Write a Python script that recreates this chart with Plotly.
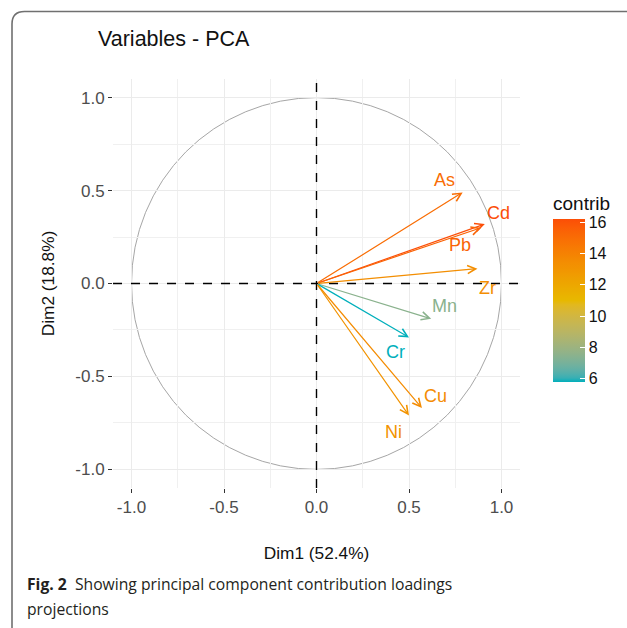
import plotly.graph_objects as go
from plotly.colors import sample_colorscale

# ---- data ----
variables = ["As", "Cd", "Pb", "Zr", "Mn", "Cr", "Cu", "Ni"]
dim1 = [0.79, 0.91, 0.89, 0.87, 0.62, 0.50, 0.57, 0.50]
dim2 = [0.49, 0.32, 0.30, 0.08, -0.19, -0.29, -0.67, -0.71]
contrib = [15.0, 16.2, 15.4, 13.4, 7.5, 5.8, 13.5, 13.1]
axis_ticks = [-1.0, -0.5, 0.0, 0.5, 1.0]
axis_tick_labels = ["-1.0", "-0.5", "0.0", "0.5", "1.0"]
contrib_ticks = [6, 8, 10, 12, 14, 16]

# ---- style ----
GRADIENT = ["#00AFBB", "#E7B800", "#FC4E07"]
LABEL_SHIFT = {"As": (-18, 12), "Cd": (14, 11), "Pb": (-21, -17), "Zr": (10, -19),
               "Mn": (13, 13), "Cr": (-14, -15), "Cu": (14, 12), "Ni": (-16, -16)}
FONT = "Liberation Sans, Arial, sans-serif"
W, H = 627, 628
ML, MR, MT, MB = 113, 107, 79, 140
PW, PH = W - ML - MR, H - MT - MB


def px(x):
    return (x - ML) / PW


def py(y):
    return (H - MB - y) / PH


# --- Lab interpolation (as ggplot's gradient palette does) ---
def _hex2rgb(h):
    h = h.lstrip("#")
    return [int(h[i:i + 2], 16) / 255 for i in (0, 2, 4)]


def _lin(c):
    return c / 12.92 if c <= 0.04045 else ((c + 0.055) / 1.055) ** 2.4


def _delin(c):
    c = max(0.0, min(1.0, c))
    return 12.92 * c if c <= 0.0031308 else 1.055 * c ** (1 / 2.4) - 0.055


WHITE = (0.95047, 1.0, 1.08883)


def _f(t):
    return t ** (1 / 3) if t > 216 / 24389 else (24389 / 27 * t + 16) / 116


def _finv(t):
    return t ** 3 if t ** 3 > 216 / 24389 else (116 * t - 16) / (24389 / 27)


def rgb2lab(h):
    r, g, b = [_lin(c) for c in _hex2rgb(h)]
    X = 0.4124 * r + 0.3576 * g + 0.1805 * b
    Y = 0.2126 * r + 0.7152 * g + 0.0722 * b
    Z = 0.0193 * r + 0.1192 * g + 0.9505 * b
    fx, fy, fz = _f(X / WHITE[0]), _f(Y / WHITE[1]), _f(Z / WHITE[2])
    return (116 * fy - 16, 500 * (fx - fy), 200 * (fy - fz))


def lab2rgb(lab):
    L, a, b = lab
    fy = (L + 16) / 116
    fx = fy + a / 500
    fz = fy - b / 200
    X, Y, Z = WHITE[0] * _finv(fx), WHITE[1] * _finv(fy), WHITE[2] * _finv(fz)
    r = 3.2406 * X - 1.5372 * Y - 0.4986 * Z
    g = -0.9689 * X + 1.8758 * Y + 0.0415 * Z
    bb = 0.0557 * X - 0.2040 * Y + 1.0570 * Z
    return "rgb(%d,%d,%d)" % tuple(round(_delin(c) * 255) for c in (r, g, bb))


labs = [rgb2lab(c) for c in GRADIENT]
N = 40
COLORSCALE = []
for i in range(N + 1):
    t = i / N
    seg = min(int(t * 2), 1)
    u = t * 2 - seg
    lab = tuple(labs[seg][k] + (labs[seg + 1][k] - labs[seg][k]) * u for k in range(3))
    COLORSCALE.append([t, lab2rgb(lab)])

cmin, cmax = min(contrib), max(contrib)
colors = sample_colorscale(COLORSCALE, [(c - cmin) / (cmax - cmin) for c in contrib])

fig = go.Figure()

# invisible trace carrying the colour scale
fig.add_trace(go.Scatter(
    x=dim1, y=dim2, mode="markers", hoverinfo="skip", showlegend=False,
    marker=dict(size=1, opacity=0, color=contrib, colorscale=COLORSCALE,
                cmin=cmin, cmax=cmax, showscale=True,
                colorbar=dict(
                    title=dict(text="contrib", side="top",
                               font=dict(family=FONT, size=19, color="#111")),
                    thickness=32, len=189, lenmode="pixels",
                    x=px(553), xanchor="left", y=py(287.5), yanchor="middle",
                    ypad=0, xpad=0, outlinewidth=0,
                    tickvals=contrib_ticks, ticks="inside", ticklen=5,
                    tickcolor="white", tickwidth=1,
                    tickfont=dict(family=FONT, size=16, color="#111"),
                ))))

annotations = []
for v, x, y, col in zip(variables, dim1, dim2, colors):
    annotations.append(dict(
        x=x, y=y, ax=0, ay=0, xref="x", yref="y", axref="x", ayref="y",
        text="", showarrow=True, arrowhead=5, arrowsize=1.35, arrowwidth=1.2,
        arrowcolor=col))
    dx, dy = LABEL_SHIFT[v]
    annotations.append(dict(
        x=x, y=y, xref="x", yref="y", text=v, showarrow=False,
        xshift=dx, yshift=dy, font=dict(family=FONT, size=18, color=col)))

# caption
CAP_FONT = dict(family="Open Sans, Noto Sans, sans-serif", size=15.7, color="#231F20")
annotations.append(dict(
    x=px(25), y=py(584), xref="paper", yref="paper", xanchor="left", yanchor="middle",
    showarrow=False, align="left",
    text="<b>Fig. 2</b>  Showing principal component contribution loadings",
    font=CAP_FONT))
annotations.append(dict(
    x=px(25), y=py(609), xref="paper", yref="paper", xanchor="left", yanchor="middle",
    showarrow=False, align="left", text="projections", font=CAP_FONT))

shapes = [
    dict(type="circle", xref="x", yref="y", x0=-1, y0=-1, x1=1, y1=1,
         line=dict(color="#A6A6A6", width=1), layer="below"),
    dict(type="line", xref="x domain", yref="y", x0=0, x1=1, y0=0, y1=0,
         line=dict(color="black", width=1.4, dash="dash")),
    dict(type="line", xref="x", yref="y domain", x0=0, x1=0, y0=0, y1=1,
         line=dict(color="black", width=1.4, dash="dash")),
    # outer figure frame
    dict(type="path", xref="paper", yref="paper",
         path=(f"M{px(12)},{py(640)} L{px(12)},{py(24)} Q{px(12)},{py(11.5)} {px(24.5)},{py(11.5)} "
               f"L{px(640)},{py(11.5)}"),
         line=dict(color="#707070", width=1.6)),
]

axis_common = dict(
    range=[-1.1, 1.1], tickvals=axis_ticks, ticktext=axis_tick_labels,
    showgrid=True, gridcolor="#EBEBEB", gridwidth=1.1,
    minor=dict(dtick=0.25, tick0=0, showgrid=True, gridcolor="#F0F0F0", gridwidth=0.8, ticks=""),
    zeroline=False, showline=False, ticks="outside", ticklen=4, tickwidth=1.2,
    tickcolor="#333333", tickfont=dict(family=FONT, size=17, color="#4D4D4D"),
    fixedrange=True,
)

fig.update_layout(
    width=W, height=H, margin=dict(l=ML, r=MR, t=MT, b=MB),
    paper_bgcolor="white", plot_bgcolor="white",
    title=dict(text="Variables - PCA", x=98 / W, xanchor="left", xref="container",
               y=1 - 38 / H, yanchor="middle", yref="container",
               font=dict(family=FONT, size=21.5, color="#111")),
    xaxis=dict(axis_common, title=dict(text="Dim1 (52.4%)", standoff=30,
                                       font=dict(family=FONT, size=17.3, color="#111"))),
    yaxis=dict(axis_common, title=dict(text="Dim2 (18.8%)", standoff=16,
                                       font=dict(family=FONT, size=17.3, color="#111"))),
    annotations=annotations, shapes=shapes, showlegend=False,
)

fig.write_html("out.html", config={"displayModeBar": False},
               post_script="document.body.style.margin='0';document.body.style.overflow='hidden';")
